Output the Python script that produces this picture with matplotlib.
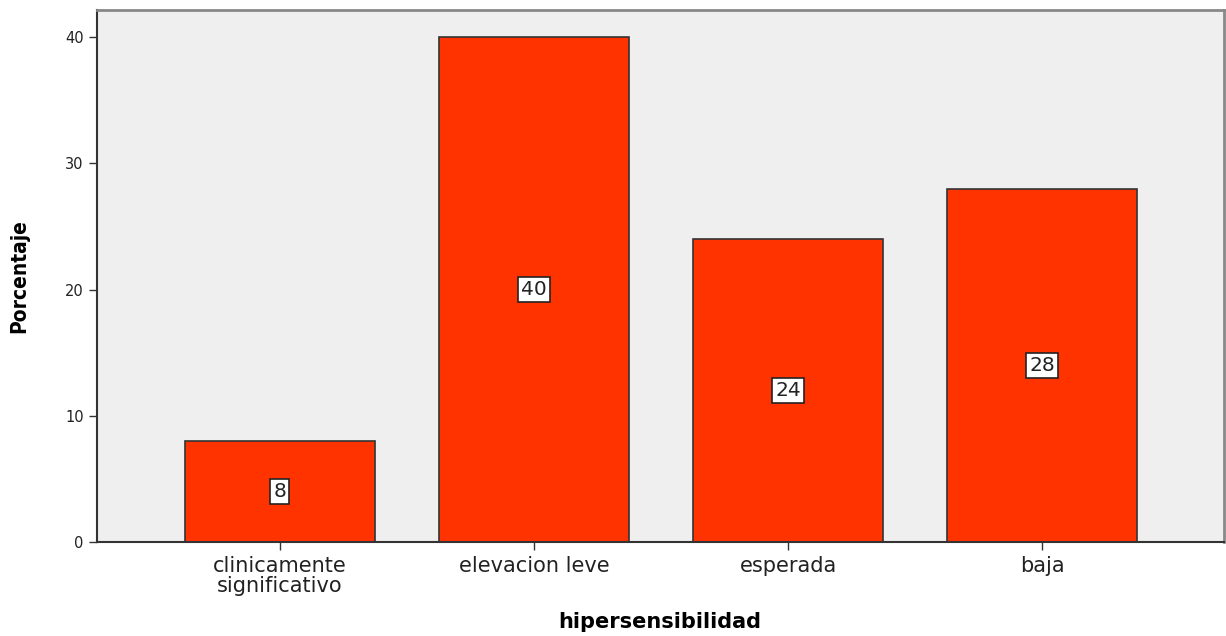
import numpy as np
import matplotlib
matplotlib.use("Agg")
import matplotlib.pyplot as plt

categorias = ["clinicamente\nsignificativo", "elevacion leve", "esperada", "baja"]
porcentajes = [8, 40, 24, 28]
yticks = [0, 10, 20, 30, 40]

fig = plt.figure(figsize=(12.26, 6.36), dpi=100)
ax = fig.add_axes([0.079, 0.148, 0.919, 0.836])
ax.set_facecolor("#efefef")

x = np.arange(len(categorias))
bars = ax.bar(x, porcentajes, width=0.75, color="#ff3300", edgecolor="#333333", linewidth=1.2, zorder=2)

for xi, v in zip(x, porcentajes):
    ax.text(xi, v / 2, str(v), ha="center", va="center", fontsize=14.5, color="#222222",
            bbox=dict(boxstyle="square,pad=0.15", facecolor="white", edgecolor="#222222", linewidth=1.2),
            zorder=3)

ax.set_xlim(-0.72, 3.714)
ax.set_ylim(0, 42.14)
ax.set_xticks(x)
ax.set_xticklabels(categorias, fontsize=15, color="#222222", linespacing=1.0)
ax.set_yticks(yticks)
ax.set_yticklabels([str(t) for t in yticks], fontsize=10.5, color="#222222")
ax.tick_params(axis="both", length=6, width=1, color="#333333")
ax.tick_params(axis="x", pad=4)

for side in ["top", "right"]:
    ax.spines[side].set_color("#888888")
    ax.spines[side].set_linewidth(2)
for side in ["left", "bottom"]:
    ax.spines[side].set_color("#333333")
    ax.spines[side].set_linewidth(1.5)

ax.set_ylabel("Porcentaje", fontsize=15, fontweight="bold", fontstretch="condensed", labelpad=26)
ax.set_xlabel("hipersensibilidad", fontsize=15, fontweight="bold", labelpad=12)

fig.savefig("out.png", dpi=100)
